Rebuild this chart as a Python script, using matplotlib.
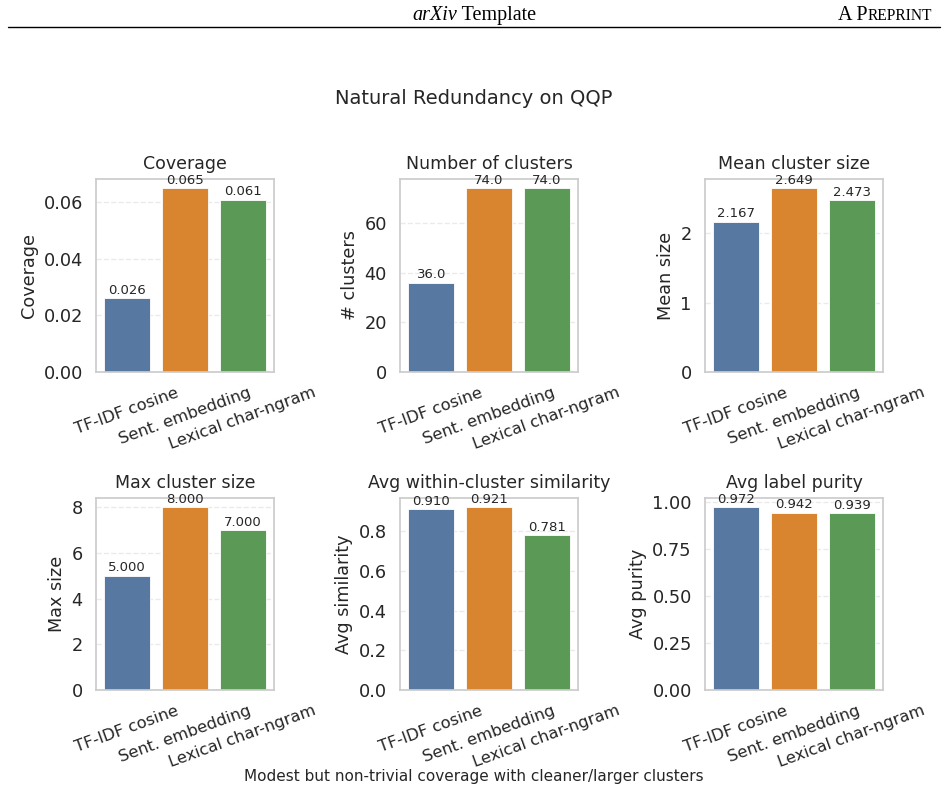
import matplotlib
matplotlib.use("Agg")
import matplotlib.pyplot as plt
from matplotlib.ticker import MaxNLocator
import seaborn as sns

sns.set_theme(style="whitegrid")
plt.rcParams['font.family'] = ['DejaVu Sans']

methods = ["TF-IDF cosine", "Sent. embedding", "Lexical char-ngram"]
colors = ["#5778a0", "#d9842f", "#5b9a56"]

coverage = [0.026, 0.065, 0.061]
n_clusters = [36.0, 74.0, 74.0]
mean_size = [2.167, 2.649, 2.473]
max_size = [5.0, 8.0, 7.0]
avg_sim = [0.910, 0.921, 0.781]
avg_purity = [0.972, 0.942, 0.939]

panels = [
    ("Coverage", "Coverage", coverage, "%.3f"),
    ("Number of clusters", "# clusters", n_clusters, "%.1f"),
    ("Mean cluster size", "Mean size", mean_size, "%.3f"),
    ("Max cluster size", "Max size", max_size, "%.3f"),
    ("Avg within-cluster similarity", "Avg similarity", avg_sim, "%.3f"),
    ("Avg label purity", "Avg purity", avg_purity, "%.3f"),
]

W, H = 948, 794
fig = plt.figure(figsize=(W / 100, H / 100), dpi=100)

# axes boxes in pixels: left, top, right, bottom
lefts = [96, 400, 705]
rows = [(179, 372), (498, 690)]
axw = 178

for k, (title, ylab, vals, fmt) in enumerate(panels):
    r, c = divmod(k, 3)
    top, bot = rows[r]
    ax = fig.add_axes([lefts[c] / W, 1 - bot / H, axw / W, (bot - top) / H])
    bars = ax.bar(range(3), vals, width=0.8, color=colors, edgecolor="white", linewidth=0.6)
    ax.bar_label(bars, fmt=fmt, fontsize=9.5, padding=1, color="#262626")
    ax.set_title(title, fontsize=12.5, color="#262626", pad=7)
    ax.set_ylabel(ylab, fontsize=12.7, color="#262626")
    ax.set_xticks(range(3))
    ax.set_xticklabels(methods, rotation=20, ha="center", fontsize=11.7)
    ax.tick_params(axis="y", labelsize=12.8)
    ax.grid(False)
    ax.grid(axis="y", linestyle="--", alpha=0.4)
    ax.set_axisbelow(True)
    for s in ax.spines.values():
        s.set_color("#cccccc")
        s.set_linewidth(1.25)
    if title == "Avg label purity":
        ax.set_yticks([0, 0.25, 0.5, 0.75, 1.0])
        ax.set_yticklabels(["0.00", "0.25", "0.50", "0.75", "1.00"])
    elif title == "Mean cluster size":
        ax.yaxis.set_major_locator(MaxNLocator(integer=True, nbins=3))

fig.text(0.5, 1 - 99 / H, "Natural Redundancy on QQP", ha="center", va="center",
         fontsize=14, color="#262626")
fig.text(0.5, 1 - 777 / H, "Modest but non-trivial coverage with cleaner/larger clusters",
         ha="center", va="center", fontsize=11, color="#262626")

# page header, pieces laid out left to right
fig.canvas.draw()
renderer = fig.canvas.get_renderer()


def header_run(x0, pieces):
    x = x0
    for txt, size, style in pieces:
        t = fig.text(x / W, 1 - 20 / H, txt, ha="left", va="baseline", fontsize=size,
                     family="Liberation Serif", style=style, color="black")
        x += t.get_window_extent(renderer).width
    return x


header_run(412, [("arXiv", 14.5, "italic"), (" Template", 14.5, "normal")])
header_run(838, [("A P", 14.5, "normal"), ("REPRINT", 11.2, "normal")])
fig.add_artist(plt.Line2D([8 / W, 940 / W], [1 - 27 / H, 1 - 27 / H], color="black", linewidth=1))

fig.savefig("out.png", dpi=100)
